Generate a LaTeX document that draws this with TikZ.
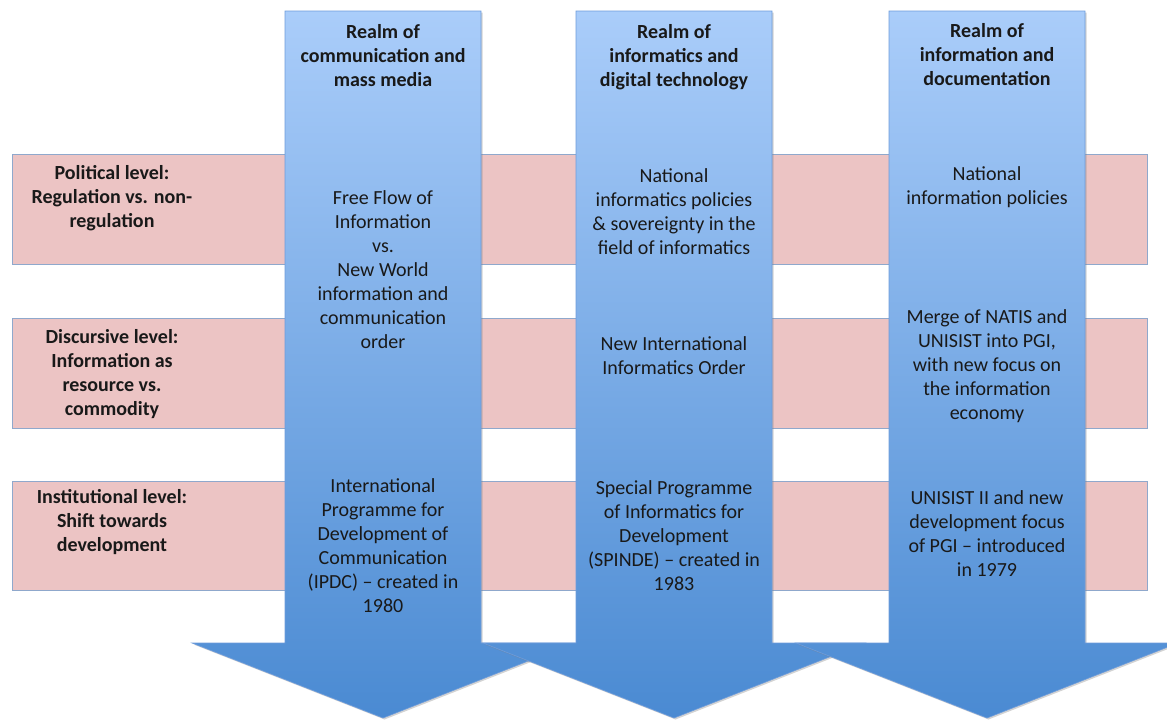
\documentclass[tikz,border=0pt]{standalone}
\usepackage{fontspec}
\setmainfont{Carlito}
\usepackage{xcolor}
\usepackage{tikz}
\usetikzlibrary{shadows}

\definecolor{arrowtop}{HTML}{AACDFA}
\definecolor{arrowbot}{HTML}{4A8AD2}
\definecolor{arrowline}{HTML}{6E9CDB}
\definecolor{bandpink}{HTML}{ECC4C4}
\definecolor{bandline}{HTML}{8FA8CC}

\begin{document}
\begin{tikzpicture}[x=1pt,y=-1pt,
  realm/.style={draw=arrowline, line width=0.6pt, top color=arrowtop, bottom color=arrowbot,
    drop shadow={opacity=0.35, shadow xshift=1.5pt, shadow yshift=-1.5pt}},
  band/.style={draw=bandline, line width=0.6pt, fill=bandpink,
    drop shadow={opacity=0.25, shadow xshift=1pt, shadow yshift=-1pt}},
  txt/.style={align=center, inner sep=0pt, text=black!90, font=\fontsize{20}{24}\selectfont},
  bold/.style={txt, font=\fontsize{20}{24}\selectfont\bfseries}]
\def\ytop{11};
\def\ybase{643};
\def\ytip{718};
\def\sw{98}; %half width of shaft%
\def\hw{191}; %half width of head%
\useasboundingbox (0,0) rectangle (1167,720);
\coordinate (A) at (383,0);
\coordinate (B) at (674,0);
\coordinate (C) at (987,0);

% pink bands behind the arrows%
\draw[band] (12,154) rectangle (1147,264); %political%
\draw[band] (12,318) rectangle (1147,428); %discursive%
\draw[band] (12,481) rectangle (1147,590); %institutional%

% the three realms%
\draw[realm] (383-\sw,\ytop) -- (383+\sw,\ytop) -- (383+\sw,\ybase) -- (383+\hw,\ybase)
  -- (383,\ytip) -- (383-\hw,\ybase) -- (383-\sw,\ybase) -- cycle;
\draw[realm] (674-\sw,\ytop) -- (674+\sw,\ytop) -- (674+\sw,\ybase) -- (674+\hw,\ybase)
  -- (674,\ytip) -- (674-\hw,\ybase) -- (674-\sw,\ybase) -- cycle;
\draw[realm] (987-\sw,\ytop) -- (987+\sw,\ytop) -- (987+\sw,\ybase) -- (987+\hw,\ybase)
  -- (987,\ytip) -- (987-\hw,\ybase) -- (987-\sw,\ybase) -- cycle;

% headings%
\node[bold] (realmA) at (383,56) {Realm of\\communication and\\mass media};
\node[bold] (realmB) at (674,57) {Realm of\\informatics and\\digital technology};
\node[bold] (realmC) at (987,55) {Realm of\\information and\\documentation};

% levels%
\node[bold] (pol) at (112,198) {Political level:\\Regulation vs. non-\\regulation};
\node[bold] (disc) at (112,374) {Discursive level:\\Information as\\resource vs.\\commodity};
\node[bold] (inst) at (112,522) {Institutional level:\\Shift towards\\development};

% cells%
\node[txt] (ffi) at (383,270) {Free Flow of\\Information\\vs.\\New World\\information and\\communication\\order};
\node[txt] (ipdc) at (383,546) {International\\Programme for\\Development of\\Communication\\(IPDC) – created in\\1980};
\node[txt] (nip) at (674,212) {National\\informatics policies\\\& sovereignty in the\\field of informatics};
\node[txt] (niio) at (674,356) {New International\\Informatics Order};
\node[txt] (spinde) at (674,536) {Special Programme\\of Informatics for\\Development\\(SPINDE) – created in\\1983};
\node[txt] (nipol) at (987,187) {National\\information policies};
\node[txt] (merge) at (987,366) {Merge of NATIS and\\UNISIST into PGI,\\with new focus on\\the information\\economy};
\node[txt] (unisist) at (987,534) {UNISIST II and new\\development focus\\of PGI – introduced\\in 1979};
\end{tikzpicture}
\end{document}
